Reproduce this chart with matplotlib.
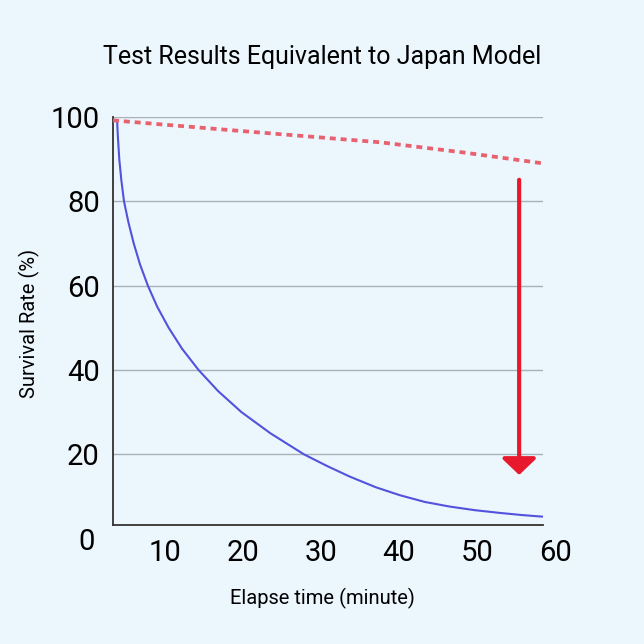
import matplotlib.pyplot as plt

plt.rcParams['font.family'] = ['Roboto', 'DejaVu Sans']

# Survival rate readings (%)
untreated_x = [3.85, 3.95, 4.14, 4.40, 4.74, 5.31, 5.99, 6.8, 7.8, 9.0, 10.47, 12.2,
               14.3, 16.8, 19.8, 23.5, 27.8, 30.8, 33.7, 37.0, 40.1, 43.3,
               46.5, 49.7, 52.9, 55.7, 58.46]
untreated_y = [99.3, 95.5, 89.9, 85.0, 80.0, 75.0, 70.0, 65.0, 60.0, 55.0, 50.0, 45.0,
               40.0, 35.0, 30.0, 25.0, 20.0, 17.2, 14.7, 12.2, 10.3, 8.7,
               7.6, 6.75, 6.1, 5.6, 5.2]

treated_x = [3.33, 18.3, 37.6, 48.2, 58.46]
treated_y = [99.2, 96.9, 94.0, 91.6, 89.0]

# arrow from the treated level down to the untreated level
arrow_x = 55.4
arrow_from = 85.1
arrow_to = 15.1

y_ticks = [20, 40, 60, 80, 100]
x_ticks = [10, 20, 30, 40, 50, 60]

bg = '#ecf6fd'

fig = plt.figure(figsize=(6.44, 6.44), dpi=100, facecolor=bg)
ax = fig.add_axes([113 / 644, 119 / 644, 430 / 644, 408 / 644], facecolor=bg)

ax.set_xlim(3.33, 58.46)
ax.set_ylim(3.23, 100)

for y in y_ticks:
    ax.axhline(y, color='#a9b0b6', lw=1.0, zorder=1)

ax.plot(untreated_x, untreated_y, color='#5252dc', lw=1.5, zorder=3,
        solid_capstyle='butt', solid_joinstyle='round')
ax.plot(treated_x, treated_y, color='#e8616f', lw=2.7, dashes=(1.6, 1.3),
        dash_capstyle='butt', zorder=3, clip_on=False)

ax.annotate('', xy=(arrow_x, arrow_to), xytext=(arrow_x, arrow_from),
            arrowprops=dict(arrowstyle='-|>,head_length=1.0,head_width=1.05',
                            color='#e8192c', lw=3.0, shrinkA=0, shrinkB=0),
            zorder=4)

for side in ['top', 'right']:
    ax.spines[side].set_visible(False)
for side in ['left', 'bottom']:
    ax.spines[side].set_color('#333333')
    ax.spines[side].set_linewidth(1.3)

ax.set_yticks(y_ticks)
ax.set_yticklabels([str(v) for v in y_ticks])
ax.tick_params(axis='y', length=0, pad=9.5, labelsize=21)
ax.set_xticks([])

for x in x_ticks:
    ax.text(x, -3.4, str(x), ha='center', va='center', fontsize=21, clip_on=False)
ax.text(0, -0.7, '0', ha='center', va='center', fontsize=21, clip_on=False)

ax.set_ylabel('Survival Rate (%)', fontsize=14.5)
ax.yaxis.set_label_coords(-73 / 430, (525 - 323) / 408)
fig.text(322 / 644, 1 - 598 / 644, 'Elapse time (minute)', ha='center', va='center', fontsize=14.5)
fig.text(322 / 644, 1 - 57 / 644, 'Test Results Equivalent to Japan Model', ha='center', va='center', fontsize=18)

fig.savefig('out.png', dpi=100, facecolor=bg)
